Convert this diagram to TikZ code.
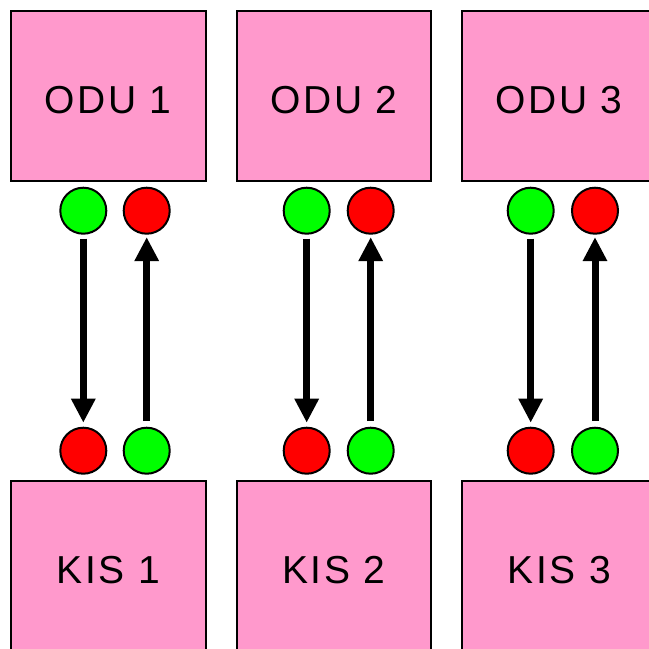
\documentclass[tikz,border=0pt]{standalone}
\usepackage{fontspec}
\newfontfamily\unitfont[LetterSpace=6.5]{Liberation Sans}
\usepackage{tikz}
\usetikzlibrary{arrows.meta}
\definecolor{unitpink}{RGB}{255,153,204}
\definecolor{portgreen}{RGB}{0,255,0}
\definecolor{portred}{RGB}{255,0,0}
\tikzset{
    unit/.style = {rectangle, line width=2pt, draw=black, fill=unitpink, minimum width=194.5pt, minimum height=170pt, inner sep=0pt, text height=35pt, text depth=0pt, font=\unitfont\fontsize{39}{45}\selectfont},
    portg/.style = {circle, line width=2pt, draw=black, fill=portgreen, minimum size=46pt, inner sep=0pt},
    portr/.style = {circle, line width=2pt, draw=black, fill=portred, minimum size=46pt, inner sep=0pt},
    edgedown/.style = {-{Triangle[width=23pt,length=24pt]}, line width=7pt, shorten <=4pt, shorten >=4pt},
    edgeup/.style = {-{Triangle[width=23pt,length=24pt]}, line width=7pt, shorten <=5.5pt, shorten >=2.4pt}
}
\begin{document}
\begin{tikzpicture}[x=1pt,y=-1pt]
\useasboundingbox (0,0) rectangle (649,649);
\clip (0,0) rectangle (649,649);
%
\node[unit] at (108.25, 96) (odu1) {ODU 1};
\node[unit] at (333.95, 96) (odu2) {ODU 2};
\node[unit] at (559.25, 96) (odu3) {ODU 3};
%
\node[unit] at (108.25, 566) (kis1) {KIS 1};
\node[unit] at (333.95, 566) (kis2) {KIS 2};
\node[unit] at (559.25, 566) (kis3) {KIS 3};
%
\node[portg] at (83.3, 210.7) (og1) {};
\node[portr] at (146.7, 210.7) (or1) {};
\node[portg] at (306.7, 210.7) (og2) {};
\node[portr] at (370.7, 210.7) (or2) {};
\node[portg] at (530.7, 210.7) (og3) {};
\node[portr] at (595, 210.7) (or3) {};
%
\node[portr] at (83.3, 450.7) (kr1) {};
\node[portg] at (146.7, 450.7) (kg1) {};
\node[portr] at (306.7, 450.7) (kr2) {};
\node[portg] at (370.7, 450.7) (kg2) {};
\node[portr] at (530.7, 450.7) (kr3) {};
\node[portg] at (595, 450.7) (kg3) {};
%
\draw[edgedown] (og1) -- (kr1);
\draw[edgeup] (kg1) -- (or1);
\draw[edgedown] (og2) -- (kr2);
\draw[edgeup] (kg2) -- (or2);
\draw[edgedown] (og3) -- (kr3);
\draw[edgeup] (kg3) -- (or3);

\end{tikzpicture}
\end{document}
